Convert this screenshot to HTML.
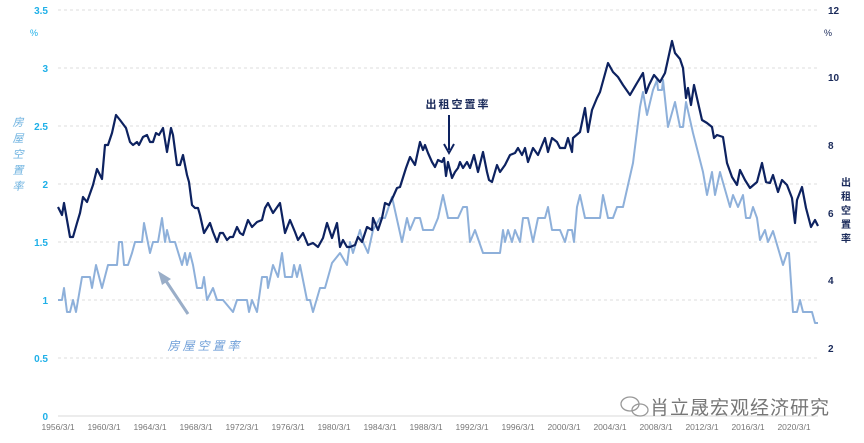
<!DOCTYPE html>
<html><head><meta charset="utf-8"><style>
body{margin:0;background:#fff}
svg{display:block;font-family:"Liberation Sans","Noto Sans CJK SC",sans-serif}
</style></head><body>
<svg width="864" height="443" viewBox="0 0 864 443" xmlns="http://www.w3.org/2000/svg">
<g stroke="#dcdcdc" stroke-width="1" stroke-dasharray="3,3">
<line x1="58" y1="10" x2="818" y2="10"/><line x1="58" y1="68" x2="818" y2="68"/>
<line x1="58" y1="126" x2="818" y2="126"/><line x1="58" y1="184" x2="818" y2="184"/>
<line x1="58" y1="242" x2="818" y2="242"/><line x1="58" y1="300" x2="818" y2="300"/>
<line x1="58" y1="358" x2="818" y2="358"/>
</g>
<line x1="58" y1="416" x2="818" y2="416" stroke="#d9d9d9"/>
<g fill="#1fb0e8" font-size="10" font-weight="bold" text-anchor="end">
<text x="48" y="14">3.5</text><text x="48" y="72">3</text><text x="48" y="130">2.5</text>
<text x="48" y="188">2</text><text x="48" y="246">1.5</text><text x="48" y="304">1</text>
<text x="48" y="362">0.5</text><text x="48" y="420">0</text>
</g>
<text x="30" y="36" fill="#1fb0e8" font-size="9">%</text>
<g fill="#1a2a5a" font-size="10" font-weight="bold">
<text x="828" y="14">12</text><text x="828" y="81">10</text><text x="828" y="149">8</text>
<text x="828" y="217">6</text><text x="828" y="284">4</text><text x="828" y="352">2</text>
</g>
<text x="824" y="36" fill="#1a2a5a" font-size="9">%</text>
<g fill="#777" font-size="8.5" text-anchor="middle">
<text x="58" y="430">1956/3/1</text><text x="104" y="430">1960/3/1</text><text x="150" y="430">1964/3/1</text>
<text x="196" y="430">1968/3/1</text><text x="242" y="430">1972/3/1</text><text x="288" y="430">1976/3/1</text>
<text x="334" y="430">1980/3/1</text><text x="380" y="430">1984/3/1</text><text x="426" y="430">1988/3/1</text>
<text x="472" y="430">1992/3/1</text><text x="518" y="430">1996/3/1</text><text x="564" y="430">2000/3/1</text>
<text x="610" y="430">2004/3/1</text><text x="656" y="430">2008/3/1</text><text x="702" y="430">2012/3/1</text>
<text x="748" y="430">2016/3/1</text><text x="794" y="430">2020/3/1</text>
</g>
<polyline fill="none" stroke="#8eb0da" stroke-width="2" stroke-linejoin="round" points="58,300 62,300 64,288 67,312 70,312 73,300 76,312 82,277 90,277 92,288 96,265 102,288 108,265 117,265 119,242 122,242 124,265 128,265 132,253 135,242 142,242 144,223 150,253 153,242 158,242 162,218 165,242 167,230 170,242 175,242 182,265 185,253 187,265 190,253 193,265 197,288 202,288 204,277 207,300 213,288 217,300 223,300 233,312 237,300 247,300 249,312 252,300 257,312 262,277 267,277 268,288 273,265 278,277 282,253 285,277 292,277 294,265 297,277 300,265 307,300 310,300 313,312 320,288 325,288 332,263 340,253 347,265 350,242 353,253 360,230 363,242 368,253 373,230 380,218 385,218 392,197 402,242 407,218 410,230 415,218 420,218 423,230 433,230 438,218 443,195 448,218 458,218 463,207 467,207 470,242 475,230 483,253 500,253 503,230 505,242 508,230 512,242 515,230 520,242 523,218 528,218 533,242 538,218 545,218 548,207 552,230 560,230 565,242 568,230 572,230 574,242 577,207 580,195 585,218 600,218 603,195 608,218 613,218 617,207 623,207 633,163 640,107 643,92 647,115 653,90 657,80 658,90 662,90 663,80 668,127 675,102 680,127 683,127 686,102 693,133 703,172 707,195 712,172 715,195 720,172 730,207 733,195 738,207 743,195 746,218 750,218 753,207 757,218 760,240 765,230 768,242 773,231 783,265 787,253 789,253 793,312 797,312 800,300 803,312 812,312 815,323 818,323"/>
<polyline fill="none" stroke="#0d2260" stroke-width="2.2" stroke-linejoin="round" points="58,207 62,215 64,203 70,237 73,237 77,223 80,213 83,197 87,202 93,185 97,169 102,179 105,145 108,145 112,133 116,115 120,120 126,128 130,142 133,145 137,142 139,145 143,137 147,135 150,142 153,142 156,133 159,135 163,128 167,152 171,128 173,135 177,165 180,165 183,155 187,175 189,182 192,205 195,208 198,208 200,215 204,233 207,228 210,223 213,232 217,242 220,233 223,233 227,240 230,237 233,237 237,227 240,233 243,235 248,220 252,227 257,222 262,220 265,208 268,203 273,213 280,203 285,233 290,220 295,232 298,240 303,233 308,245 313,243 318,247 323,238 327,223 332,238 337,223 340,247 343,240 347,247 350,247 355,245 358,237 362,242 367,227 372,230 373,218 378,230 382,218 385,203 389,205 393,197 397,188 400,187 406,168 410,157 415,165 420,142 423,150 425,145 428,153 432,162 435,167 438,160 442,162 444,158 446,176 448,162 452,178 455,172 458,168 460,162 463,168 467,162 470,168 474,155 478,172 483,152 487,172 489,180 492,182 497,165 500,172 505,165 510,155 515,153 518,148 522,155 525,148 528,162 533,148 538,155 545,138 548,152 552,138 557,142 560,148 565,148 568,138 572,152 573,138 580,132 585,108 588,132 592,110 597,98 600,92 608,63 613,72 618,77 623,85 630,95 637,83 643,73 646,93 649,85 654,75 660,82 665,73 672,41 675,53 680,59 683,68 686,98 688,88 691,105 694,85 702,120 707,123 712,127 714,138 717,135 723,137 727,163 732,177 737,185 740,170 745,180 750,188 757,182 762,163 766,182 770,183 773,175 778,192 782,180 787,185 792,198 795,223 797,200 802,187 806,208 811,227 815,220 818,226"/>
<g fill="#6fb3e0" font-size="11" font-style="italic" text-anchor="middle">
<text x="18" y="126">房</text><text x="18" y="142">屋</text><text x="18" y="158">空</text><text x="18" y="174">置</text><text x="18" y="190">率</text>
</g>
<g fill="#1a2a5a" font-size="10" text-anchor="middle" font-weight="bold">
<text x="846" y="186">出</text><text x="846" y="200">租</text><text x="846" y="214">空</text><text x="846" y="228">置</text><text x="846" y="242">率</text>
</g>
<text x="458" y="108" fill="#1a2a5a" font-size="11" font-weight="bold" text-anchor="middle" letter-spacing="2">出租空置率</text>
<line x1="449" y1="115" x2="449" y2="150" stroke="#0d2260" stroke-width="2"/>
<path d="M444,144 L449,153 L454,144" fill="none" stroke="#0d2260" stroke-width="2"/>
<text x="205" y="350" fill="#6f9fd8" font-size="12" font-style="italic" text-anchor="middle" letter-spacing="3">房屋空置率</text>
<line x1="188" y1="314" x2="164" y2="278" stroke="#9aaec8" stroke-width="3"/>
<path d="M158,271 L171,279 L162,285 Z" fill="#9aaec8"/>
<g fill="none" stroke="#999" stroke-width="1.3">
<ellipse cx="630" cy="404" rx="9" ry="7"/><ellipse cx="640" cy="410" rx="8" ry="6"/>
</g>
<text x="650" y="414" fill="#777" font-size="19" letter-spacing="1">肖立晟宏观经济研究</text>
</svg>
</body></html>
